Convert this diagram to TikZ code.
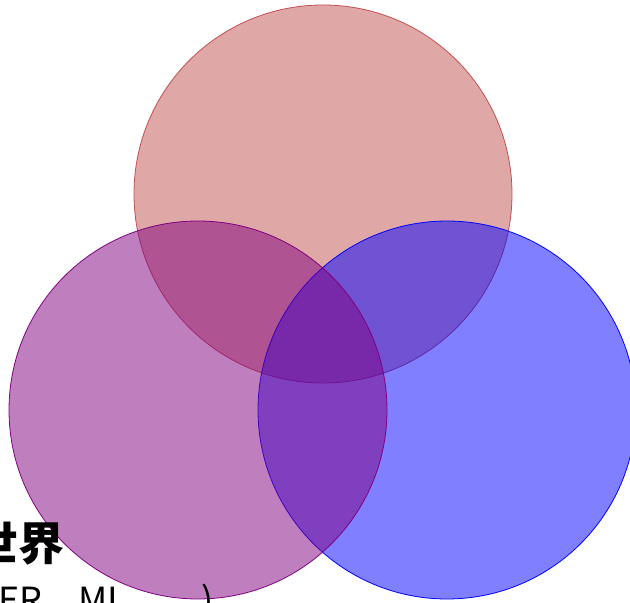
\documentclass[tikz,border=0pt]{standalone}
\usepackage{fontspec}
\newfontfamily\cjk{Noto Sans CJK SC}
\definecolor{setred}{RGB}{193,79,79}

\begin{document}
\begin{tikzpicture}[x=1pt,y=1pt,
  vset/.style={circle,draw,line width=0.8pt,minimum size=378pt,inner sep=0pt,fill opacity=0.5}
]
  \useasboundingbox (0,0) rectangle (630,603);
  \clip (0,0) rectangle (630,603);
  \node[vset,draw=setred,fill=setred] (top) at (323,409) {};
  \node[vset,draw=blue,fill=blue] (right) at (447,193) {};
  \node[vset,draw=violet,fill=violet] (left) at (198,193) {};

  \node[anchor=east,inner sep=0pt,font=\cjk\bfseries\fontsize{46}{50}\selectfont] (world) at (65,60) {现实世界};
  \node[anchor=base west,inner sep=0pt,font=\cjk\fontsize{36}{40}\selectfont] (models) at (-14,-11) {(ER，ML，…)};
\end{tikzpicture}
\end{document}
